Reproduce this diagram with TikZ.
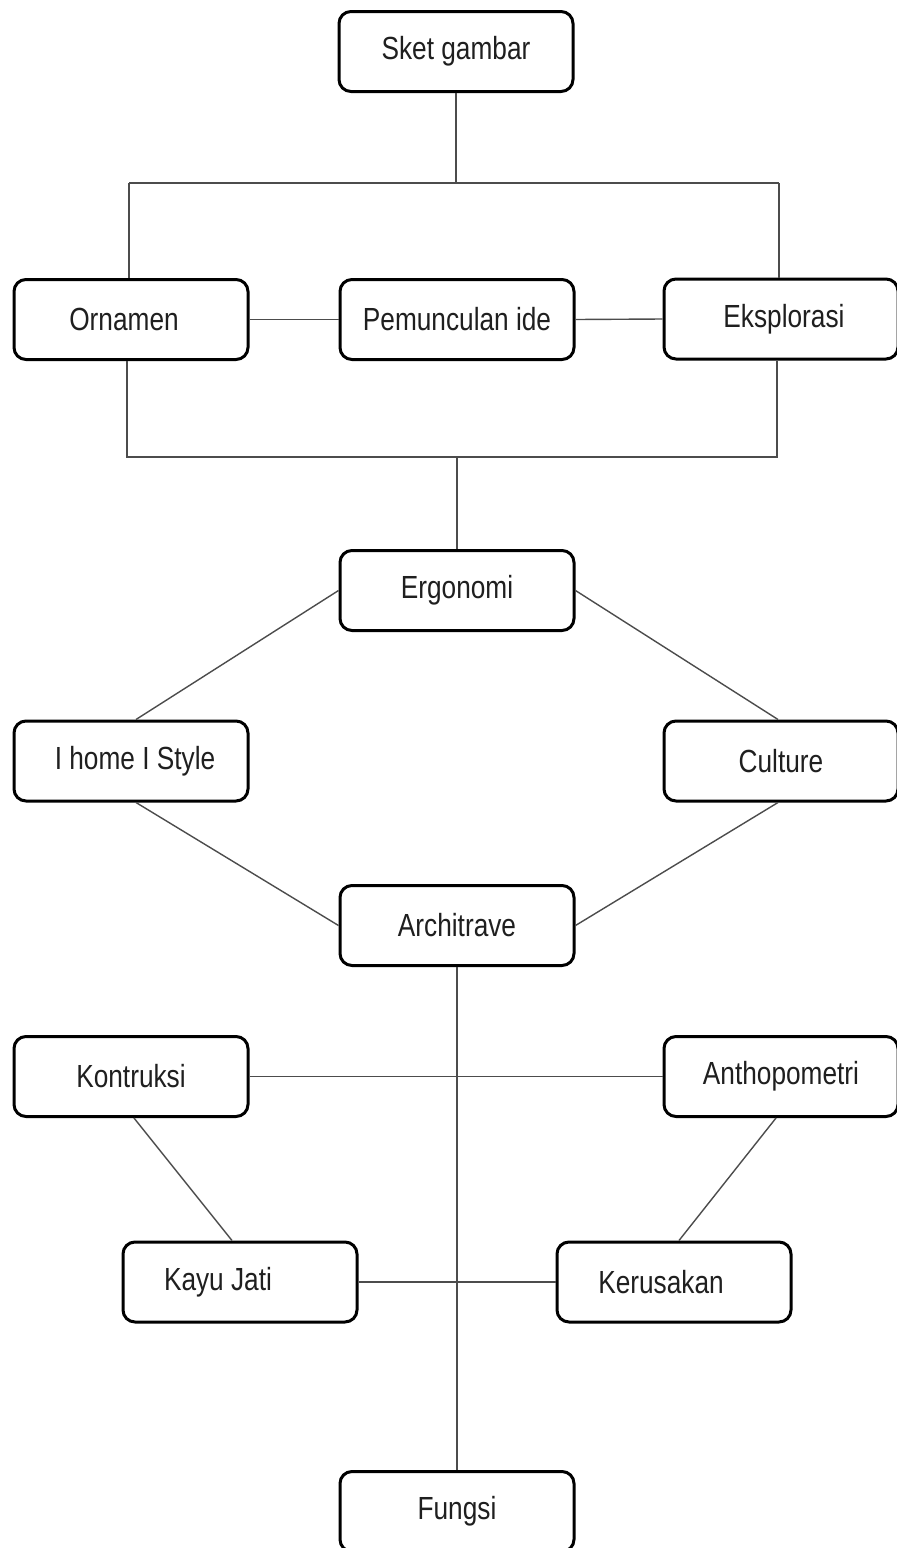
\documentclass[tikz,border=0pt]{standalone}
\usepackage{fontspec}
\setmainfont{Liberation Sans}[FakeStretch=0.82]
\begin{document}
\begin{tikzpicture}[x=1pt,y=-1pt,
  box/.style={draw=black, line width=3pt, rounded corners=12pt, fill=white,
    minimum width=234pt, minimum height=80pt, inner sep=0pt,
    font=\fontsize{32}{36}\selectfont, text=black!88},
  conn/.style={draw=black!70, line width=1.4pt}]
\useasboundingbox (0,0) rectangle (897,1548);
\clip (0,0) rectangle (897,1548);
% nodes
\node[box] (sket) at (456,51.5) {Sket gambar};
\node[box] (orn) at (131,319.5) {Ornamen\hspace*{14pt}};
\node[box] (pem) at (457,319.5) {Pemunculan ide};
\node[box] (eks) at (781,319) {\hspace*{6pt}Eksplorasi};
\node[box] (ergo) at (457,590.5) {Ergonomi};
\node[box] (ihome) at (131,761) {\hspace*{8pt}I home I Style};
\node[box] (cult) at (781,761) {Culture};
\node[box] (arch) at (457,925.5) {Architrave};
\node[box] (kon) at (131,1076.5) {Kontruksi};
\node[box] (anth) at (781,1076.5) {Anthopometri};
\node[box] (kayu) at (240,1282) {Kayu Jati\hspace*{44pt}};
\node[box] (keru) at (674,1282) {Kerusakan\hspace*{26pt}};
\node[box] (fung) at (457,1511.5) {Fungsi};
% helper coordinates
\coordinate (t1) at (129,183);
\coordinate (t2) at (779,183);
\coordinate (b1) at (127,457);
\coordinate (b2) at (777,457);
% connectors
\draw[conn] (sket.south) -- (sket.south |- t1);
\draw[conn] (t1) -- (t2);
\draw[conn] (t1) -- (t1 |- orn.north);
\draw[conn] (t2) -- (t2 |- eks.north);
\draw[conn] (orn.east) -- (pem.west);
\draw[conn] (pem.east) -- (eks.west);
\draw[conn] (b1 |- orn.south) -- (b1) -- (b2) -- (b2 |- eks.south);
\draw[conn] (ergo.north) -- (ergo.north |- b1);
\draw[conn] (ergo.west) -- ([xshift=5pt]ihome.north);
\draw[conn] (ergo.east) -- ([xshift=-3pt]cult.north);
\draw[conn] ([xshift=5pt]ihome.south) -- (arch.west);
\draw[conn] ([xshift=-3pt]cult.south) -- (arch.east);
\draw[conn] (arch.south) -- (fung.north);
\draw[conn] (kon.east) -- (anth.west);
\draw[conn] ([xshift=3pt]kon.south) -- ([xshift=-8pt]kayu.north);
\draw[conn] ([xshift=-5pt]anth.south) -- ([xshift=5pt]keru.north);
\draw[conn] (kayu.east) -- (keru.west);
\end{tikzpicture}
\end{document}
